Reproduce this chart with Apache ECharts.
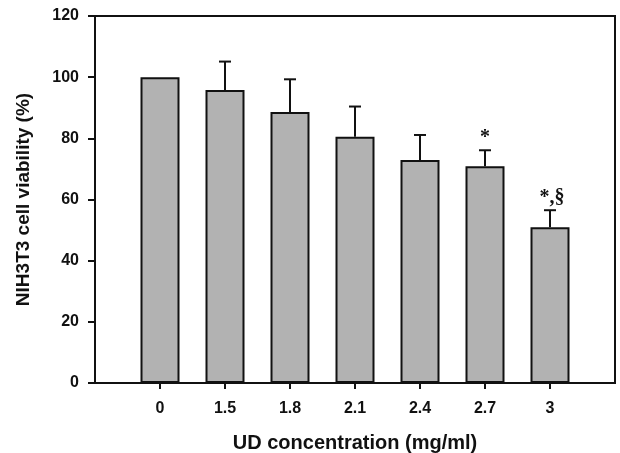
<!DOCTYPE html>
<html>
<head>
<meta charset="utf-8">
<script src="https://cdn.jsdelivr.net/npm/echarts@6/dist/echarts.min.js"></script>
<style>
  html, body { margin: 0; padding: 0; background: #fff; }
  #chart { width: 620px; height: 453px; }
</style>
</head>
<body>
<div id="chart"></div>
<script>
// 数据
const categories = ['0', '1.5', '1.8', '2.1', '2.4', '2.7', '3']
const viability = [100, 95.8, 88.6, 80.5, 72.9, 70.9, 50.9]
const errUpper = [0, 9.3, 10.7, 9.9, 8.2, 5.2, 5.6]
const marks = ['', '', '', '', '', '*', '*,§']

let chart = echarts.init(document.getElementById('chart'))

let barData = []
let errData = []
for (let i = 0; i < categories.length; i++) {
  barData.push([i, viability[i]])
  errData.push([i, viability[i], viability[i] + errUpper[i]])
}

let labelFont = {
  color: '#111',
  fontFamily: 'Liberation Sans, Arial, sans-serif',
  fontWeight: 'bold',
  fontSize: 16
}

let option = {
  animation: false,
  backgroundColor: '#fff',
  grid: {
    left: 95,
    right: 5,
    top: 16,
    bottom: 70,
    outerBoundsMode: 'none',
    containLabel: false,
    show: true,
    borderColor: '#111',
    borderWidth: 2,
    backgroundColor: 'transparent'
  },
  xAxis: {
    type: 'value',
    min: -1,
    max: 7,
    interval: 1,
    splitLine: { show: false },
    axisLine: { show: true, onZero: false, lineStyle: { color: '#111', width: 2 } },
    axisTick: { show: true, length: 6, customValues: [0, 1, 2, 3, 4, 5, 6], lineStyle: { color: '#111', width: 2 } },
    axisLabel: Object.assign({
      margin: 18,
      customValues: [0, 1, 2, 3, 4, 5, 6],
      formatter: function (v) { return categories[v] }
    }, labelFont),
    name: 'UD concentration (mg/ml)',
    nameLocation: 'middle',
    nameGap: 50,
    nameTextStyle: {
      color: '#111',
      fontFamily: 'Liberation Sans, Arial, sans-serif',
      fontWeight: 'bold',
      fontSize: 20
    }
  },
  yAxis: {
    type: 'value',
    min: 0,
    max: 120,
    interval: 20,
    splitLine: { show: false },
    axisLine: { show: true, onZero: false, lineStyle: { color: '#111', width: 2 } },
    axisTick: { show: true, length: 7, lineStyle: { color: '#111', width: 2 } },
    axisLabel: Object.assign({ margin: 16 }, labelFont),
    name: 'NIH3T3 cell viability (%)',
    nameLocation: 'middle',
    nameGap: 62,
    nameTextStyle: {
      color: '#111',
      fontFamily: 'Liberation Sans, Arial, sans-serif',
      fontWeight: 'bold',
      fontSize: 19
    }
  },
  series: [
    {
      type: 'bar',
      data: barData,
      barWidth: 39,
      itemStyle: {
        color: '#b2b2b2',
        borderColor: '#111',
        borderWidth: 2
      }
    },
    {
      type: 'custom',
      data: errData,
      z: 3,
      renderItem: function (params, api) {
        let base = api.coord([api.value(0), api.value(1)])
        let top = api.coord([api.value(0), api.value(2)])
        let mark = marks[params.dataIndex]
        let children = []
        if (errUpper[params.dataIndex] > 0) {
          children.push({
            type: 'line',
            shape: { x1: base[0], y1: base[1], x2: top[0], y2: top[1] },
            style: { stroke: '#111', lineWidth: 2 }
          })
          children.push({
            type: 'line',
            shape: { x1: top[0] - 6, y1: top[1], x2: top[0] + 6, y2: top[1] },
            style: { stroke: '#111', lineWidth: 2 }
          })
        }
        if (mark) {
          children.push({
            type: 'text',
            style: {
              text: mark,
              x: top[0] + (mark.length > 1 ? 2 : 0),
              y: top[1] - 2,
              align: 'center',
              verticalAlign: 'bottom',
              fill: '#111',
              font: 'bold 20px "Liberation Serif", "Times New Roman", serif'
            }
          })
        }
        return { type: 'group', children: children }
      }
    }
  ]
}

chart.setOption(option)
</script>
</body>
</html>
